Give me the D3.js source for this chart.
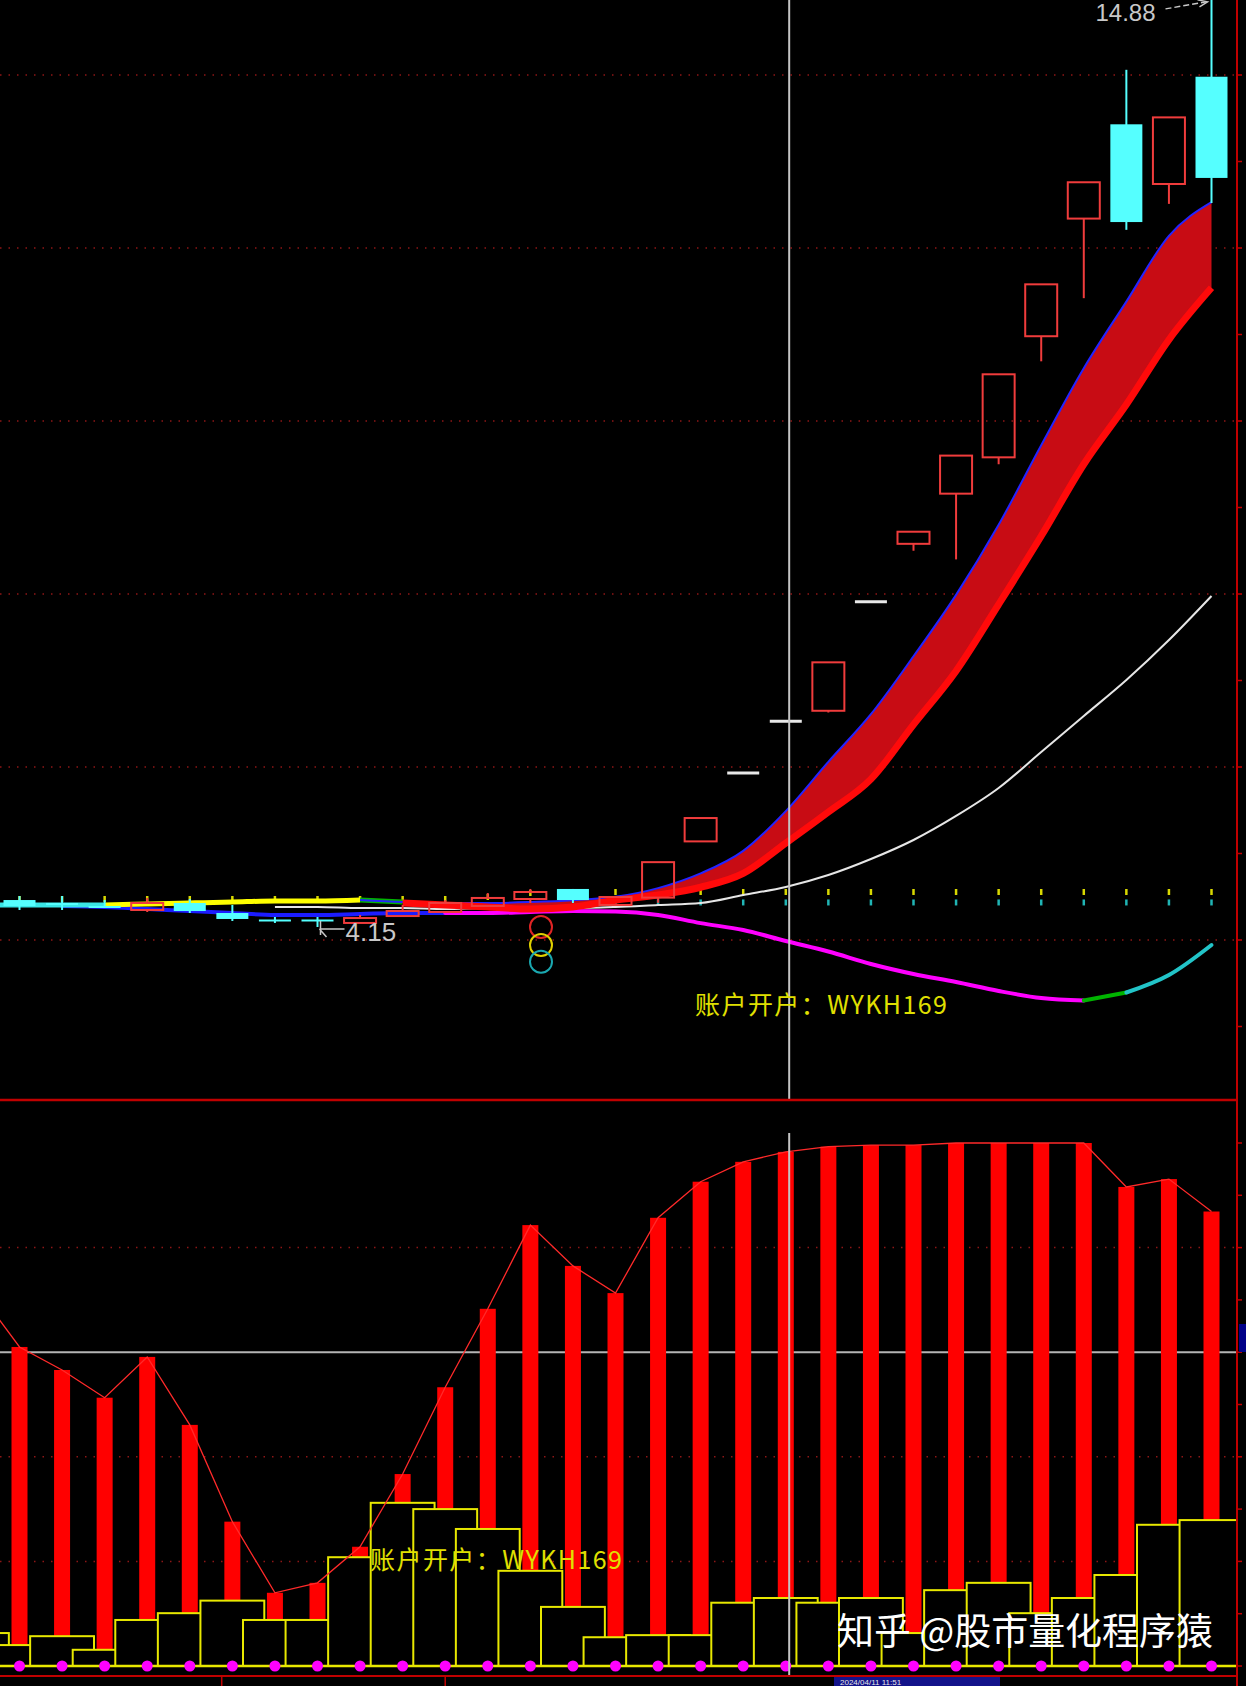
<!DOCTYPE html>
<html>
<head>
<meta charset="utf-8">
<script src="https://cdn.jsdelivr.net/npm/d3@7"></script>
<style>
html, body { margin: 0; padding: 0; background: #000; }
svg { display: block; }
</style>
</head>
<body>
<svg id="chart" width="1246" height="1686"></svg>
<script>
// bar -1 is the bar cut off at the left edge
var bars = d3.range(-1, 29);

// candles (price)
var open  = [4.46, 4.462, 4.428, 4.393, 4.347, 4.428, 4.312, 4.237, 4.237, 4.197, 4.277, 4.324, 4.393, 4.474, 4.590, 4.405, 4.49, 5.14, 5.93, 6.53, 6.65, 7.91, 8.58, 9.16, 9.58, 10.98, 12.34, 13.43, 12.74, 13.98];
var high  = [4.50, 4.509, 4.509, 4.462, 4.486, 4.474, 4.405, 4.266, 4.266, 4.289, 4.405, 4.462, 4.543, 4.590, 4.590, 4.509, 4.90, 5.41, 5.93, 6.53, 7.21, 7.91, 8.72, 9.60, 10.54, 11.58, 12.76, 14.06, 13.51, 14.88];
var low   = [4.35, 4.347, 4.347, 4.370, 4.324, 4.312, 4.220, 4.197, 4.150, 4.197, 4.277, 4.324, 4.393, 4.428, 4.428, 4.393, 4.43, 5.14, 5.93, 6.53, 6.63, 7.91, 8.50, 8.40, 9.50, 10.69, 11.42, 12.21, 12.51, 12.52];
var close = [4.40, 4.393, 4.405, 4.376, 4.428, 4.335, 4.243, 4.220, 4.220, 4.254, 4.335, 4.428, 4.486, 4.555, 4.462, 4.497, 4.90, 5.41, 5.93, 6.53, 7.21, 7.91, 8.72, 9.60, 10.54, 11.58, 12.76, 12.30, 13.51, 12.81];

// ribbon lines and moving lines (price)
var bandTop = [4.405, 4.405, 4.405, 4.405, 4.416, 4.428, 4.439, 4.451, 4.451, 4.462, 4.439, 4.428, 4.428, 4.439, 4.46, 4.50, 4.60, 4.77, 5.03, 5.49, 6.06, 6.61, 7.28, 7.99, 8.80, 9.72, 10.61, 11.38, 12.14, 12.53];
var bandTopState = ["c", "c", "c", "y", "y", "y", "y", "y", "y", "g", "b", "b", "b", "b", "b", "b", "b", "b", "b", "b", "b", "b", "b", "b", "b", "b", "b", "b", "b", "b"];
var bandBottom = [null, null, null, null, null, null, null, null, null, null, 4.428, 4.405, 4.382, 4.358, 4.382, 4.46, 4.52, 4.61, 4.77, 5.12, 5.48, 5.86, 6.49, 7.11, 7.88, 8.67, 9.50, 10.19, 10.94, 11.54];
var whiteLine = [null, null, null, null, null, null, null, 4.382, 4.382, 4.370, 4.370, 4.358, 4.370, 4.370, 4.370, 4.382, 4.405, 4.428, 4.520, 4.613, 4.751, 4.936, 5.156, 5.434, 5.757, 6.173, 6.590, 7.006, 7.468, 7.977];
var lowLine = [null, null, 4.393, 4.382, 4.358, 4.335, 4.312, 4.289, 4.289, 4.301, 4.312, 4.312, 4.312, 4.324, 4.335, 4.330, 4.290, 4.195, 4.116, 3.988, 3.867, 3.723, 3.607, 3.514, 3.410, 3.329, 3.301, 3.393, 3.595, 3.942];
var lowLineState = ["b", "b", "b", "b", "b", "b", "b", "b", "b", "b", "b", "m", "m", "m", "m", "m", "m", "m", "m", "m", "m", "m", "m", "m", "m", "m", "g", "t", "t", "t"];
var yellowDots = [4.474, 4.474, 4.474, 4.474, 4.474, 4.474, 4.474, 4.474, 4.474, 4.474, 4.474, 4.474, 4.497, 4.543, 4.555, 4.555, 4.555, 4.555, 4.555, 4.555, 4.555, 4.555, 4.555, 4.555, 4.555, 4.555, 4.555, 4.555, 4.555, 4.555];
var cyanDots = [null, null, null, null, null, null, null, null, null, null, null, null, null, null, 4.434, 4.434, 4.434, 4.434, 4.434, 4.434, 4.434, 4.434, 4.434, 4.434, 4.434, 4.434, 4.434, 4.434, 4.434, 4.434];
var signalCircles = [4.15, 3.942, 3.749];
var signalAt = 12.25;

// lower panel
var osc = [72, 61.0, 56.6, 51.3, 59.1, 46.1, 27.6, 14.0, 15.9, 22.8, 36.7, 53.3, 68.3, 84.3, 76.5, 71.3, 85.7, 92.6, 96.4, 98.3, 99.3, 99.6, 99.6, 100, 100, 100, 100, 91.6, 93.1, 86.9];
var vol = [6.3, 4.0, 5.7, 3.1, 8.8, 10.1, 12.5, 8.8, 8.8, 20.8, 31.2, 30.0, 26.2, 18.2, 11.3, 5.5, 5.9, 5.9, 12.1, 13.0, 12.1, 13.0, 6.3, 14.5, 15.9, 10.1, 13.0, 17.4, 27.0, 27.9];

var priceGrid = [4, 6, 8, 10, 12, 14];
var priceTicks = d3.range(3, 16, 1);
var oscGrid = [20, 40, 80];
var oscMid = 60;
var oscTicks = d3.range(0, 110, 10);
var timeTicks = [4.75, 10];
var cursorAt = 18.08;

var colors = { c: "#3ae6e6", y: "#ffff00", g: "#00b400", b: "#1c1cff", m: "#ff00ff", t: "#22c4c8" };

var W = 1246, H = 1686, axisX = 1237, splitY = 1100, bottomY = 1676;

var svg = d3.select("#chart");
svg.append("rect").attr("width", W).attr("height", H).attr("fill", "#000");

var defs = svg.append("defs");
defs.append("clipPath").attr("id", "clipUp")
    .append("rect").attr("x", 0).attr("y", 0).attr("width", axisX).attr("height", splitY);
defs.append("clipPath").attr("id", "clipDown")
    .append("rect").attr("x", 0).attr("y", splitY + 1).attr("width", axisX).attr("height", bottomY - splitY - 1);

var x = d3.scaleLinear().domain([0, 28]).range([19.5, 1211.5]);
var step = x(1) - x(0);
var yPrice = d3.scaleLinear().domain([4, 14]).range([940, 75]);
var yOsc = d3.scaleLinear().domain([0, 100]).range([1666, 1143]);
var curve = d3.curveMonotoneX;

var rows = bars.map(function(b, i) {
    return {
        b: b, o: open[i], h: high[i], l: low[i], c: close[i],
        top: bandTop[i], topState: bandTopState[i], bottom: bandBottom[i],
        white: whiteLine[i], lowL: lowLine[i], lowState: lowLineState[i],
        yd: yellowDots[i], cd: cyanDots[i], osc: osc[i], vol: vol[i]
    };
});

// split a series into runs of one state, each run carrying the next point too
function runs(key, stateKey) {
    var out = [], cur = null;
    rows.forEach(function(d) {
        if (d[key] == null) return;
        if (!cur || cur.state !== d[stateKey]) {
            if (cur) cur.pts.push(d);
            cur = { state: d[stateKey], pts: [d] };
            out.push(cur);
        } else {
            cur.pts.push(d);
        }
    });
    return out.filter(r => r.pts.length > 1);
}

// ---------- upper panel ----------
var up = svg.append("g").attr("clip-path", "url(#clipUp)");

up.selectAll(".pgrid").data(priceGrid).join("line")
    .attr("x1", 0).attr("x2", axisX)
    .attr("y1", d => yPrice(d)).attr("y2", d => yPrice(d))
    .attr("stroke", "#8e1616").attr("stroke-width", 1.5)
    .attr("stroke-dasharray", "1.5,7");

// dotted marker columns
up.selectAll(".ydot").data(rows.filter(d => d.yd != null)).join("line")
    .attr("x1", d => x(d.b)).attr("x2", d => x(d.b))
    .attr("y1", d => yPrice(d.yd) - 3).attr("y2", d => yPrice(d.yd) + 3)
    .attr("stroke", "#d8d800").attr("stroke-width", 2.5);
up.selectAll(".cdot").data(rows.filter(d => d.cd != null)).join("line")
    .attr("x1", d => x(d.b)).attr("x2", d => x(d.b))
    .attr("y1", d => yPrice(d.cd) - 3).attr("y2", d => yPrice(d.cd) + 3)
    .attr("stroke", "#20b4b4").attr("stroke-width", 2.5);

// white line
var whiteGen = d3.line().defined(d => d.white != null).curve(curve)
    .x(d => x(d.b)).y(d => yPrice(d.white));
up.append("path").datum(rows).attr("d", whiteGen)
    .attr("fill", "none").attr("stroke", "#e6e6e6").attr("stroke-width", 2);

// lower coloured line
var lowGen = d3.line().curve(curve).x(d => x(d.b)).y(d => yPrice(d.lowL));
up.selectAll(".lowrun").data(runs("lowL", "lowState")).join("path")
    .attr("d", d => lowGen(d.pts))
    .attr("fill", "none").attr("stroke", d => colors[d.state])
    .attr("stroke-width", 4).attr("stroke-linecap", "round");

// top line left part (coloured states)
var topGen = d3.line().curve(curve).x(d => x(d.b)).y(d => yPrice(d.top));
up.selectAll(".toprun").data(runs("top", "topState").filter(d => d.state !== "b")).join("path")
    .attr("d", d => topGen(d.pts))
    .attr("fill", "none").attr("stroke", d => colors[d.state]).attr("stroke-width", 5);

// ribbon
var bandRows = rows.filter(d => d.bottom != null);
var area = d3.area().curve(curve).x(d => x(d.b))
    .y0(d => yPrice(d.bottom)).y1(d => yPrice(d.top));
up.append("path").datum(bandRows).attr("d", area).attr("fill", "#c80c14");
up.append("path").datum(rows.filter(d => d.topState === "b" || d.b === 8))
    .attr("d", topGen)
    .attr("fill", "none").attr("stroke", "#2424ff").attr("stroke-width", 2);
up.append("path").datum(bandRows)
    .attr("d", d3.line().curve(curve).x(d => x(d.b)).y(d => yPrice(d.bottom)))
    .attr("fill", "none").attr("stroke", "#ff0a0a").attr("stroke-width", 7);

// signal circles
up.selectAll(".sig").data(signalCircles).join("circle")
    .attr("cx", x(signalAt)).attr("cy", d => yPrice(d)).attr("r", 11)
    .attr("fill", "none").attr("stroke-width", 2)
    .attr("stroke", (d, i) => ["#e02424", "#e0d000", "#1aa8b0"][i]);

// candles
var bodyW = 32;
var candles = up.selectAll(".candle").data(rows).join("g");
candles.each(function(d) {
    var g = d3.select(this), cx = x(d.b);
    if (d.c > d.o) {
        var col = "#f03c3c";
        if (d.h > d.c) g.append("line").attr("x1", cx).attr("x2", cx)
            .attr("y1", yPrice(d.h)).attr("y2", yPrice(d.c)).attr("stroke", col).attr("stroke-width", 2);
        if (d.l < d.o) g.append("line").attr("x1", cx).attr("x2", cx)
            .attr("y1", yPrice(d.o)).attr("y2", yPrice(d.l)).attr("stroke", col).attr("stroke-width", 2);
        g.append("rect").attr("x", cx - bodyW / 2).attr("y", yPrice(d.c))
            .attr("width", bodyW).attr("height", yPrice(d.o) - yPrice(d.c))
            .attr("fill", "none").attr("stroke", col).attr("stroke-width", 2);
    } else if (d.c < d.o) {
        var cc = "#55ffff";
        g.append("line").attr("x1", cx).attr("x2", cx)
            .attr("y1", yPrice(d.h)).attr("y2", yPrice(d.l)).attr("stroke", cc).attr("stroke-width", 2);
        g.append("rect").attr("x", cx - bodyW / 2).attr("y", yPrice(d.o))
            .attr("width", bodyW).attr("height", Math.max(2, yPrice(d.c) - yPrice(d.o)))
            .attr("fill", cc);
    } else {
        g.append("line").attr("x1", cx - bodyW / 2).attr("x2", cx + bodyW / 2)
            .attr("y1", yPrice(d.o)).attr("y2", yPrice(d.o))
            .attr("stroke", "#e8e8e8").attr("stroke-width", 3);
    }
});

// high / low labels
var hiRow = rows[d3.maxIndex(rows, d => d.h)];
var loRow = rows[d3.minIndex(rows, d => d.l)];
var hx = x(hiRow.b), hy = yPrice(hiRow.h);
up.append("text").attr("x", hx - 116).attr("y", hy + 22.5)
    .attr("font-family", "Liberation Sans, Arial, sans-serif").attr("font-size", 24)
    .attr("fill", "#c8c8c8").text(d3.format(".2f")(hiRow.h));
up.append("path")
    .attr("d", "M" + (hx - 46) + "," + (hy + 10) + " L" + (hx - 5) + "," + (hy + 3))
    .attr("stroke", "#c8c8c8").attr("stroke-width", 1.5).attr("stroke-dasharray", "6,3").attr("fill", "none");
up.append("path")
    .attr("d", "M" + (hx - 14) + "," + (hy + 1) + " L" + (hx - 4) + "," + (hy + 3) + " L" + (hx - 12) + "," + (hy + 8))
    .attr("stroke", "#c8c8c8").attr("stroke-width", 1.5).attr("fill", "none");

var lx = x(loRow.b), ly = yPrice(loRow.l);
up.append("path")
    .attr("d", "M" + (lx + 27) + "," + (ly + 2) + " L" + (lx + 2) + "," + (ly + 2) +
        " M" + (lx + 3) + "," + (ly - 6) + " L" + (lx + 3) + "," + (ly + 8) +
        " M" + (lx + 2) + "," + (ly + 2) + " L" + (lx + 9) + "," + (ly + 10))
    .attr("stroke", "#c8c8c8").attr("stroke-width", 1.5).attr("fill", "none");
up.append("text").attr("x", lx + 28).attr("y", ly + 14)
    .attr("font-family", "Liberation Sans, Arial, sans-serif").attr("font-size", 26)
    .attr("fill", "#c8c8c8").text(d3.format(".2f")(loRow.l));

// ---------- lower panel ----------
var dn = svg.append("g").attr("clip-path", "url(#clipDown)");

dn.selectAll(".ogrid").data(oscGrid).join("line")
    .attr("x1", 0).attr("x2", axisX)
    .attr("y1", d => yOsc(d)).attr("y2", d => yOsc(d))
    .attr("stroke", "#8e1616").attr("stroke-width", 1.5)
    .attr("stroke-dasharray", "1.5,7");
dn.append("line").attr("x1", 0).attr("x2", axisX)
    .attr("y1", yOsc(oscMid)).attr("y2", yOsc(oscMid))
    .attr("stroke", "#b4b4b4").attr("stroke-width", 2);

dn.selectAll(".obar").data(rows).join("rect")
    .attr("x", d => x(d.b) - 8).attr("width", 16)
    .attr("y", d => yOsc(d.osc)).attr("height", d => yOsc(0) - yOsc(d.osc))
    .attr("fill", "#ff0000");

dn.selectAll(".vbox").data(rows).join("rect")
    .attr("x", d => x(d.b) - step * 0.75).attr("width", step * 1.5)
    .attr("y", d => yOsc(d.vol)).attr("height", d => yOsc(0) - yOsc(d.vol))
    .attr("fill", "#000").attr("stroke", "#e8e800").attr("stroke-width", 2);

dn.append("path").datum(rows)
    .attr("d", d3.line().x(d => x(d.b)).y(d => yOsc(d.osc)))
    .attr("fill", "none").attr("stroke", "#ff2a2a").attr("stroke-width", 1.3);

dn.append("line").attr("x1", 0).attr("x2", axisX)
    .attr("y1", yOsc(0)).attr("y2", yOsc(0))
    .attr("stroke", "#e8e800").attr("stroke-width", 2.5);

dn.selectAll(".mdot").data(rows).join("circle")
    .attr("cx", d => x(d.b)).attr("cy", yOsc(0)).attr("r", 5.5)
    .attr("fill", "#ff00ff");

// ---------- frame ----------
svg.append("line").attr("x1", x(cursorAt)).attr("x2", x(cursorAt))
    .attr("y1", 0).attr("y2", splitY).attr("stroke", "#c4c4c4").attr("stroke-width", 2);
svg.append("line").attr("x1", x(cursorAt)).attr("x2", x(cursorAt))
    .attr("y1", 1133).attr("y2", bottomY).attr("stroke", "#c4c4c4").attr("stroke-width", 2);

svg.append("line").attr("x1", 0).attr("x2", axisX).attr("y1", splitY).attr("y2", splitY)
    .attr("stroke", "#c00000").attr("stroke-width", 2.5);
svg.append("line").attr("x1", 0).attr("x2", axisX).attr("y1", bottomY).attr("y2", bottomY)
    .attr("stroke", "#c00000").attr("stroke-width", 2);
svg.append("line").attr("x1", axisX).attr("x2", axisX).attr("y1", 0).attr("y2", H)
    .attr("stroke", "#c00000").attr("stroke-width", 2);

svg.selectAll(".ptick").data(priceTicks.filter(d => yPrice(d) > 0 && yPrice(d) < splitY)).join("line")
    .attr("x1", axisX).attr("x2", axisX + 5)
    .attr("y1", d => yPrice(d)).attr("y2", d => yPrice(d))
    .attr("stroke", "#c00000").attr("stroke-width", 1.5);
svg.selectAll(".otick").data(oscTicks).join("line")
    .attr("x1", axisX).attr("x2", axisX + 5)
    .attr("y1", d => yOsc(d)).attr("y2", d => yOsc(d))
    .attr("stroke", "#c00000").attr("stroke-width", 1.5);
svg.selectAll(".ttick").data(timeTicks).join("line")
    .attr("x1", d => x(d)).attr("x2", d => x(d))
    .attr("y1", bottomY).attr("y2", H)
    .attr("stroke", "#c00000").attr("stroke-width", 1.5);

svg.append("rect").attr("x", axisX + 2).attr("y", 1324).attr("width", 7).attr("height", 28).attr("fill", "#000088");
svg.append("rect").attr("x", 834).attr("y", bottomY + 1).attr("width", 166).attr("height", H - bottomY).attr("fill", "#12128a");
svg.append("text").attr("x", 840).attr("y", 1684.5)
    .attr("font-family", "Liberation Sans, Arial, sans-serif").attr("font-size", 8)
    .attr("fill", "#e8e8e8").text("2024/04/11 11:51");

// ---------- texts ----------
var cjk = "Noto Sans CJK SC, sans-serif";
svg.append("text").attr("x", 695).attr("y", 1014)
    .attr("font-family", cjk).attr("font-size", 25).attr("fill", "#e0e000")
    .attr("textLength", 252).attr("lengthAdjust", "spacing")
    .text("账户开户：WYKH169");
svg.append("text").attr("x", 370).attr("y", 1569)
    .attr("font-family", cjk).attr("font-size", 25).attr("fill", "#e0e000")
    .attr("textLength", 252).attr("lengthAdjust", "spacing")
    .text("账户开户：WYKH169");

svg.append("text").attr("x", 837).attr("y", 1645)
    .attr("font-family", cjk).attr("font-size", 37).attr("fill", "#ffffff")
    .attr("textLength", 376).attr("lengthAdjust", "spacing")
    .text("知乎 @股市量化程序猿");
</script>
</body>
</html>
